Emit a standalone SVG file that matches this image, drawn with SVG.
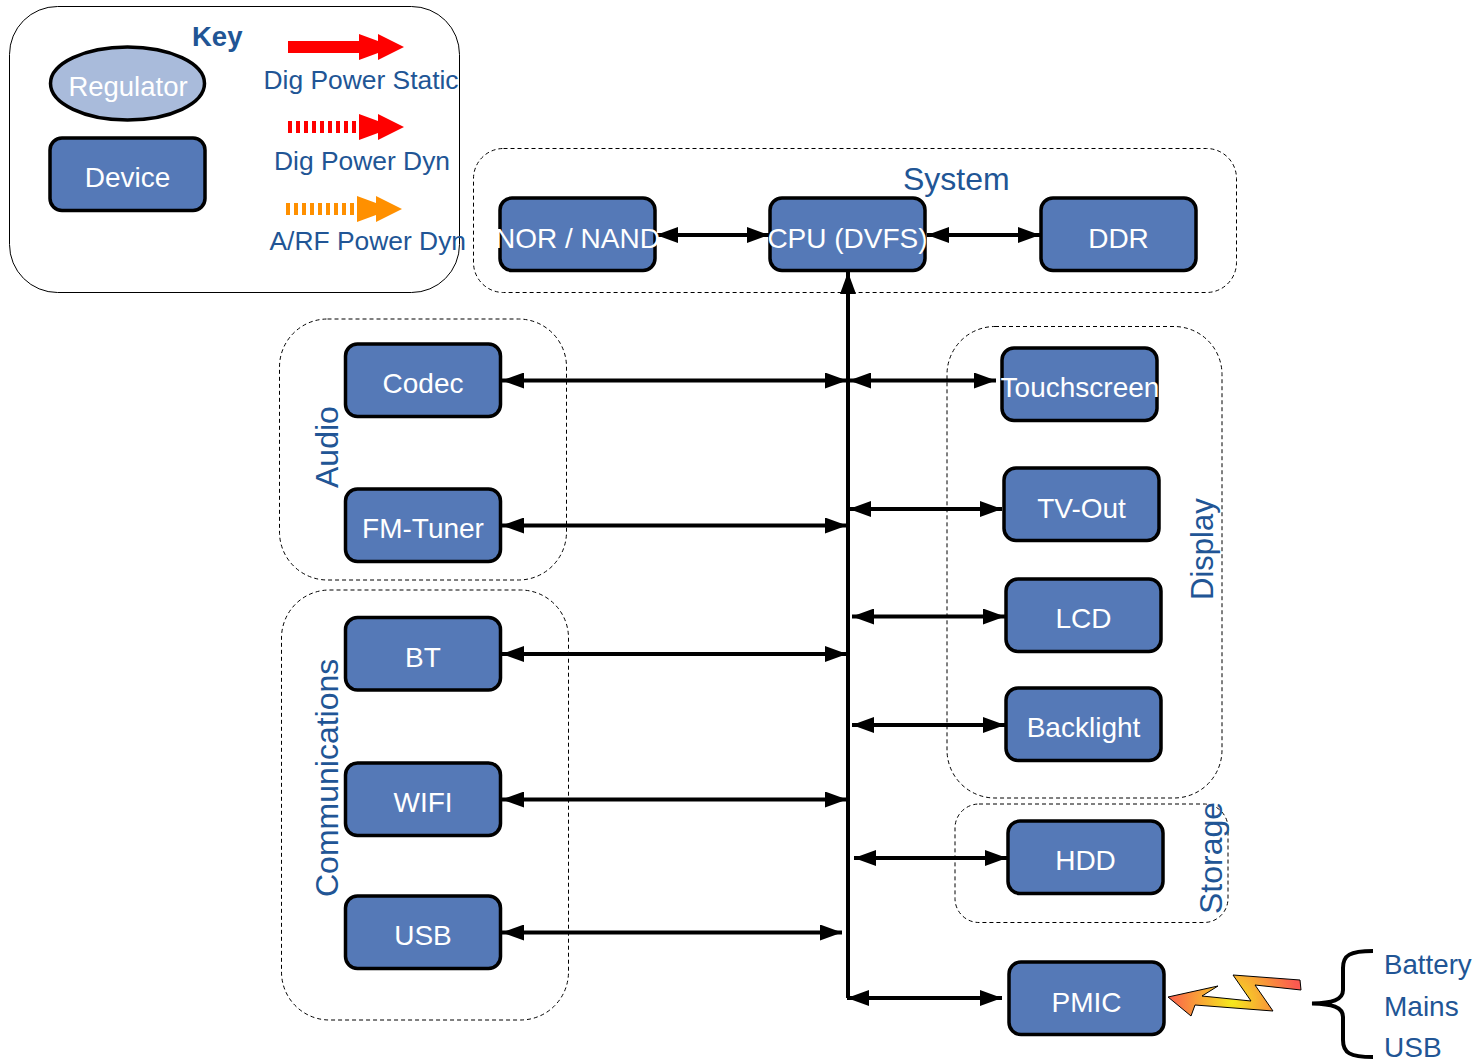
<svg xmlns="http://www.w3.org/2000/svg" width="1477" height="1061" viewBox="0 0 1477 1061">
<style>
text{font-family:"Liberation Sans",Arial,sans-serif;font-size:28px}
.n rect,.n ellipse{stroke:#000;stroke-width:3.5}
.n rect{fill:#5579b7}
.n text{fill:#fff;text-anchor:middle}
.l{fill:#215595}
.k{font-size:26.400px}
.t{font-size:32px}
.g{fill:none;stroke:#000;stroke-width:1;stroke-dasharray:4 3}
.c{stroke:#000;stroke-width:4;fill:none;marker-start:url(#a);marker-end:url(#a)}
</style>
<defs>
<marker id="a" viewBox="0 0 24 16" refX="22" refY="8" markerUnits="userSpaceOnUse" markerWidth="24" markerHeight="16" orient="auto-start-reverse"><path d="M0 0L22 8L0 16Z" fill="#000"/></marker>
<radialGradient id="b" gradientUnits="userSpaceOnUse" cx="1232" cy="1002" r="66"><stop offset="0" stop-color="#f5ea1c"/><stop offset="1" stop-color="#fb5a50"/></radialGradient>
</defs>
<g id="key">
<rect x="9.500" y="6.500" width="450" height="286" rx="48" fill="#fff" stroke="#000"/>
<text x="192" y="46" style="font-weight:bold;fill:#215595;font-size:27.500px">Key</text>
<text class="l k" x="263.500" y="89">Dig Power Static</text>
<text class="l k" x="274" y="170">Dig Power Dyn</text>
<text class="l k" x="269.500" y="250">A/RF Power Dyn</text>
<path d="M288 41H359V34L378 41V34L404 47L378 60V53L359 60V53H288Z" fill="#f00"/>
<path d="M359 114L378 121V114L404 127L378 140V133L359 140Z" fill="#f00"/>
<path d="M288 127H358" stroke="#f00" stroke-width="12" stroke-dasharray="4 4"/>
<path d="M357 196L376 203V196L402 209L376 222V215L357 222Z" fill="#ff9000"/>
<path d="M286 209H356" stroke="#ff9000" stroke-width="12" stroke-dasharray="4 4"/>
</g>
<g id="key-regulator" class="n"><ellipse cx="127.500" cy="83.500" rx="77" ry="36.500" fill="#a9bbdb"/><text x="128" y="96" style="font-size:27.500px">Regulator</text></g>
<g id="key-device" class="n"><rect x="50" y="138" width="155" height="72.500" rx="12"/><text x="127.500" y="187">Device</text></g>
<g id="groups">
<rect class="g" x="473.500" y="148.500" width="763" height="144" rx="30"/>
<rect class="g" x="279.500" y="319" width="287" height="261" rx="48"/>
<rect class="g" x="281.500" y="590" width="287" height="430" rx="48"/>
<rect class="g" x="947" y="326.500" width="275" height="471.500" rx="48"/>
<rect class="g" x="955" y="804" width="273" height="118.500" rx="24"/>
<text class="l t" x="903" y="190">System</text>
<text class="l t" transform="translate(337.500 488) rotate(-90)">Audio</text>
<text class="l t" transform="translate(337.500 897) rotate(-90)">Communications</text>
<text class="l" transform="translate(1213 600) rotate(-90)" style="font-size:31px">Display</text>
<text class="l t" transform="translate(1221.500 914) rotate(-90)">Storage</text>
</g>
<g id="connectors">
<path d="M848 998V272" stroke="#000" stroke-width="4" fill="none" marker-end="url(#a)"/>
<path class="c" d="M656 235H769"/>
<path class="c" d="M927 235H1040"/>
<path class="c" d="M502 380.500H847"/>
<path class="c" d="M502 525.500H847"/>
<path class="c" d="M502 654H847"/>
<path class="c" d="M502 799.500H847"/>
<path class="c" d="M502 932.500H842"/>
<path class="c" d="M849 380.500H996"/>
<path class="c" d="M849 509H1002"/>
<path class="c" d="M852 616.500H1005"/>
<path class="c" d="M852 725H1005"/>
<path class="c" d="M854 858H1007"/>
<path class="c" d="M847 998H1002"/>
</g>
<g id="nor" class="n"><rect x="500" y="198" width="155" height="72.500" rx="12"/><text x="577.500" y="248">NOR / NAND</text></g>
<g id="cpu" class="n"><rect x="770" y="198" width="155" height="72.500" rx="12"/><text x="847.500" y="248">CPU (DVFS)</text></g>
<g id="ddr" class="n"><rect x="1041" y="198" width="155" height="72.500" rx="12"/><text x="1118.500" y="248">DDR</text></g>
<g id="codec" class="n"><rect x="345.500" y="344" width="155" height="72.500" rx="12"/><text x="423" y="393">Codec</text></g>
<g id="fm" class="n"><rect x="345.500" y="489" width="155" height="72.500" rx="12"/><text x="423" y="538">FM-Tuner</text></g>
<g id="bt" class="n"><rect x="345.500" y="617.500" width="155" height="72.500" rx="12"/><text x="423" y="667">BT</text></g>
<g id="wifi" class="n"><rect x="345.500" y="763" width="155" height="72.500" rx="12"/><text x="423" y="812">WIFI</text></g>
<g id="usb" class="n"><rect x="345.500" y="896" width="155" height="72.500" rx="12"/><text x="423" y="945">USB</text></g>
<g id="touch" class="n"><rect x="1002" y="348" width="155" height="72.500" rx="12"/><text x="1080" y="397">Touchscreen</text></g>
<g id="tv" class="n"><rect x="1004" y="468" width="155" height="72.500" rx="12"/><text x="1081.500" y="518">TV-Out</text></g>
<g id="lcd" class="n"><rect x="1006" y="579" width="155" height="72.500" rx="12"/><text x="1083.500" y="628">LCD</text></g>
<g id="backlight" class="n"><rect x="1006" y="688" width="155" height="72.500" rx="12"/><text x="1083.500" y="737">Backlight</text></g>
<g id="hdd" class="n"><rect x="1008" y="821" width="155" height="72.500" rx="12"/><text x="1085.500" y="870">HDD</text></g>
<g id="pmic" class="n"><rect x="1009" y="962" width="155" height="72.500" rx="12"/><text x="1086.500" y="1012">PMIC</text></g>
<g id="power">
<path d="M1168 997L1218 986L1202 996L1251 1001L1233 975L1300 980L1301 990L1255 985L1273 1011L1195 1005L1191 1016Z" fill="url(#b)" stroke="#000" stroke-width="1"/>
<path d="M1373 951C1350 951 1343 955 1343 968V990C1343 1000 1332 1003 1312 1003.500C1332 1004 1343 1007 1343 1017V1040C1343 1053 1350 1057 1373 1057" fill="none" stroke="#000" stroke-width="4"/>
<text class="l" x="1384" y="974" style="font-size:27.700px">Battery</text>
<text class="l" x="1384" y="1016">Mains</text>
<text class="l" x="1384" y="1057">USB</text>
</g>
</svg>
